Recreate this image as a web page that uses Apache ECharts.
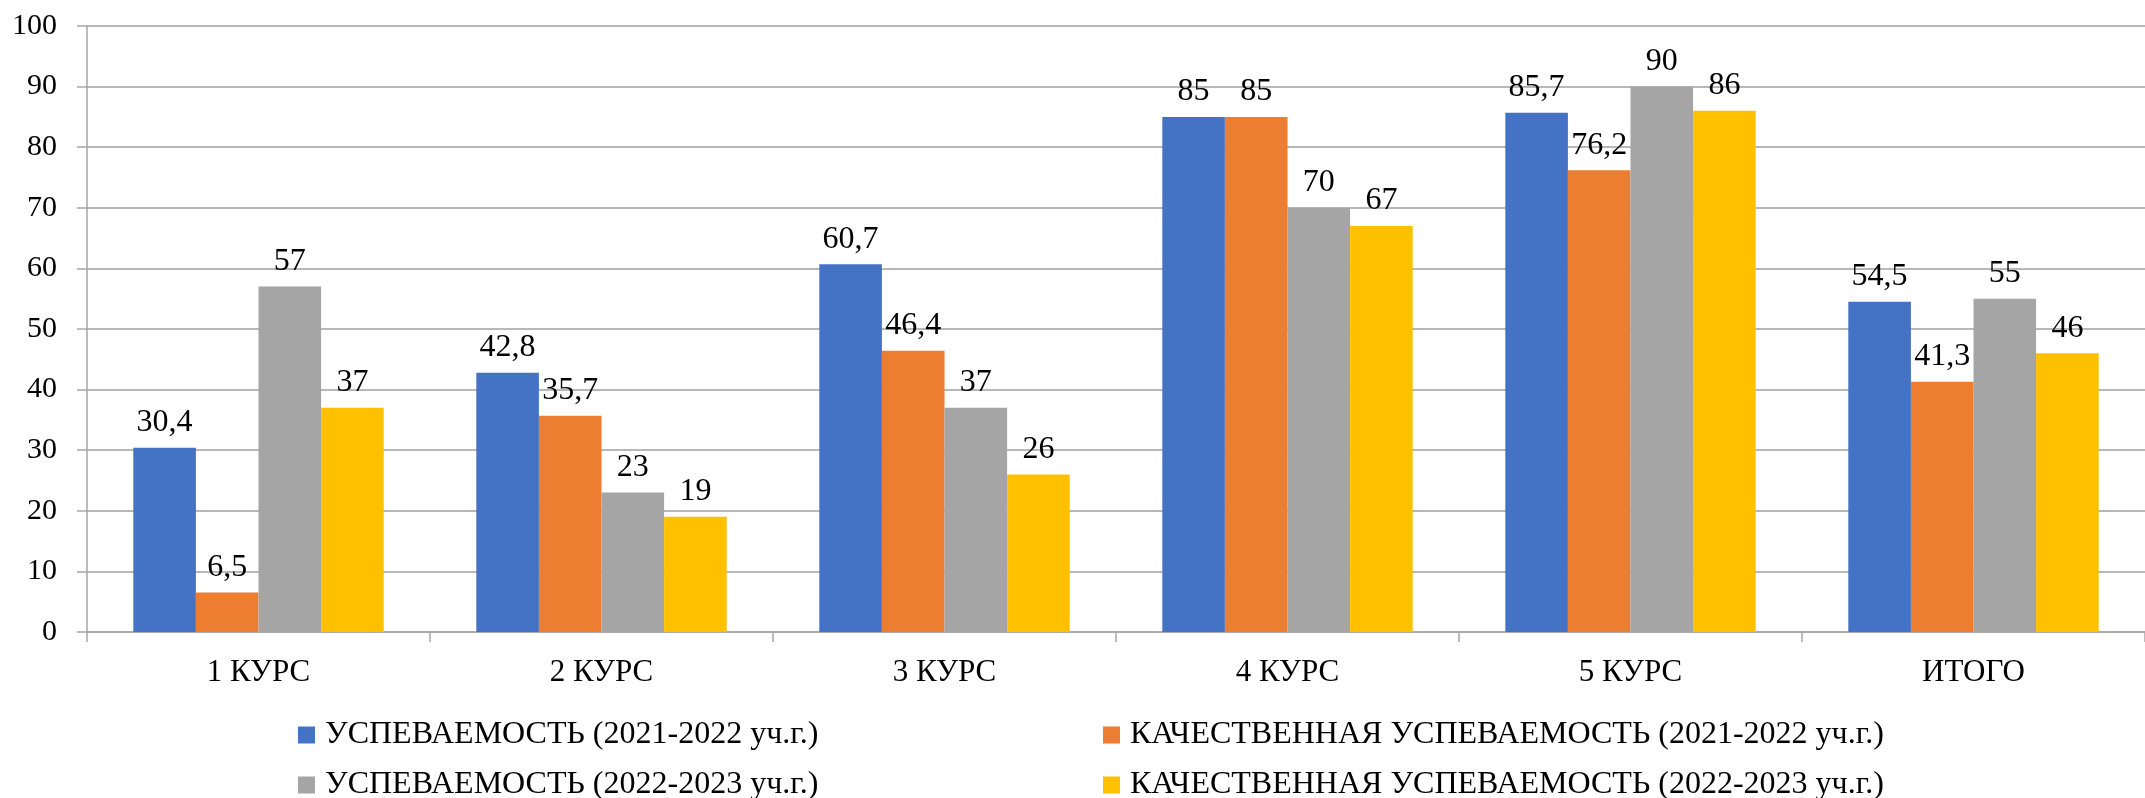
<!DOCTYPE html>
<html>
<head>
<meta charset="utf-8">
<script src="https://cdn.jsdelivr.net/npm/echarts@6/dist/echarts.min.js"></script>
<style>
  html, body { margin: 0; padding: 0; background: #fff; }
  #my-charts { width: 2145px; height: 798px; }
</style>
</head>
<body>
<div id="my-charts"></div>
<script>
// категории и значения
var categories = ['1 КУРС', '2 КУРС', '3 КУРС', '4 КУРС', '5 КУРС', 'ИТОГО']
var seriesNames = [
  'УСПЕВАЕМОСТЬ (2021-2022 уч.г.)',
  'КАЧЕСТВЕННАЯ УСПЕВАЕМОСТЬ (2021-2022 уч.г.)',
  'УСПЕВАЕМОСТЬ (2022-2023 уч.г.)',
  'КАЧЕСТВЕННАЯ УСПЕВАЕМОСТЬ (2022-2023 уч.г.)'
]
var usp2122 = [30.4, 42.8, 60.7, 85, 85.7, 54.5]
var kach2122 = [6.5, 35.7, 46.4, 85, 76.2, 41.3]
var usp2223 = [57, 23, 37, 70, 90, 55]
var kach2223 = [37, 19, 26, 67, 86, 46]
var colors = ['#4472C4', '#ED7D31', '#A5A5A5', '#FFC000']

var font = 'Liberation Serif'
var myChart = echarts.init(document.getElementById('my-charts'))

var seriesData = [usp2122, kach2122, usp2223, kach2223]
var series = []
seriesData.forEach(function (data, i) {
  series.push({
    name: seriesNames[i],
    type: 'bar',
    data: data,
    barGap: '0%',
    barCategoryGap: '27%',
    itemStyle: { color: colors[i] },
    label: {
      show: true,
      position: 'top',
      distance: 9,
      color: '#000',
      fontFamily: font,
      fontSize: 32,
      formatter: function (p) {
        return String(p.value).replace('.', ',')
      }
    }
  })
})

// легенда: 2 колонки x 2 строки
var legendLeft = [293, 1098, 293, 1098]
var legendTop = [714, 714, 764, 764]
var legends = []
seriesNames.forEach(function (name, i) {
  legends.push({
    data: [name],
    left: legendLeft[i],
    top: legendTop[i],
    itemWidth: 17,
    itemHeight: 17,
    icon: 'rect',
    textStyle: { color: '#000', fontFamily: font, fontSize: 32, padding: [0, 0, 0, 5] }
  })
})

var option = {
  animation: false,
  textStyle: { fontFamily: font },
  grid: { left: 87, right: -8, top: 26, bottom: 166, containLabel: false },
  legend: legends,
  xAxis: {
    type: 'category',
    data: categories,
    axisLine: { lineStyle: { color: '#a6a6a6', width: 1.5 } },
    axisTick: { show: true, length: 10, lineStyle: { color: '#a6a6a6', width: 1.5 } },
    axisLabel: { color: '#000', fontFamily: font, fontSize: 31, margin: 25 }
  },
  yAxis: {
    type: 'value',
    min: 0,
    max: 100,
    interval: 10,
    axisLine: { show: true, lineStyle: { color: '#a6a6a6', width: 1.5 } },
    axisTick: { show: true, length: 10, lineStyle: { color: '#a6a6a6', width: 1.5 } },
    splitLine: { show: true, lineStyle: { color: '#a0a0a0', width: 1.5 } },
    axisLabel: { color: '#000', fontFamily: font, fontSize: 30, margin: 30 }
  },
  series: series
}

myChart.setOption(option)
</script>
</body>
</html>
